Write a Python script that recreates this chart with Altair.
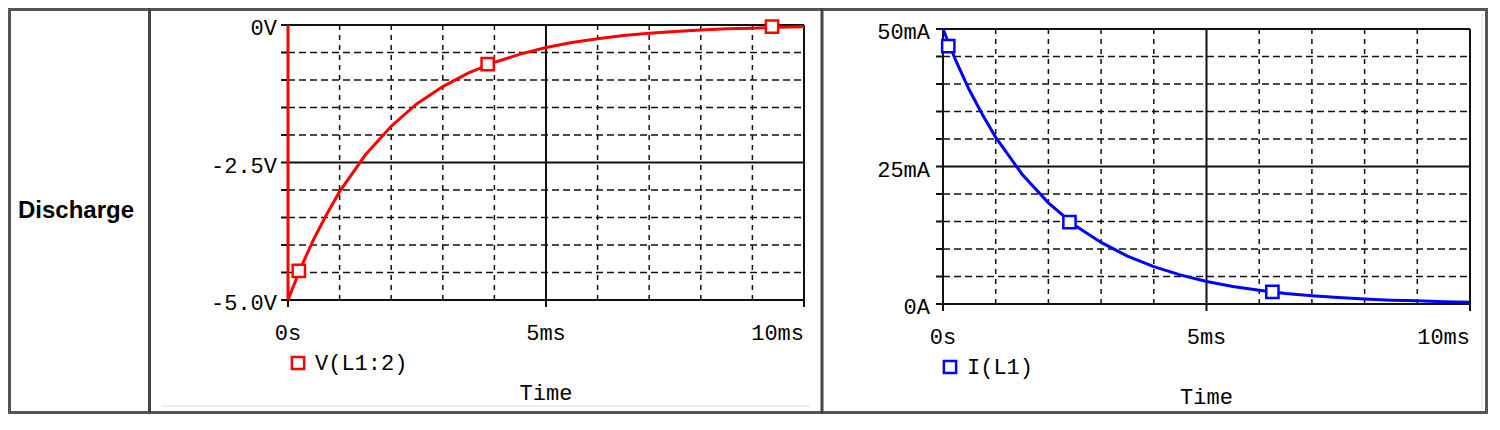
import altair as alt
import pandas as pd

# ---------------- data ----------------
row_label = ["Discharge"]

# V(L1:2) trace: time (ms) and volts
v_time = [0, 0, 0.25, 0.5, 0.75, 1, 1.5, 2, 2.5, 3, 3.5, 4, 4.5, 5, 5.5, 6,
          6.5, 7, 7.5, 8, 8.5, 9, 9.5, 10]
v_vals = [0, -5.0, -4.41, -3.89, -3.44, -3.03, -2.36, -1.84, -1.43, -1.12,
          -0.87, -0.68, -0.53, -0.41, -0.32, -0.25, -0.19, -0.15, -0.12,
          -0.09, -0.07, -0.06, -0.04, -0.03]
v_mark_time = [0.21, 3.87, 9.38]
v_mark_vals = [-4.47, -0.71, -0.03]
v_series = "V(L1:2)"

# I(L1) trace: time (ms) and mA
i_time = [0, 0.25, 0.5, 0.75, 1, 1.5, 2, 2.5, 3, 3.5, 4, 4.5, 5, 5.5, 6,
          6.5, 7, 7.5, 8, 8.5, 9, 9.5, 10]
i_vals = [50, 44.1, 38.9, 34.4, 30.3, 23.6, 18.4, 14.3, 11.2, 8.7, 6.8, 5.3,
          4.1, 3.2, 2.5, 1.9, 1.5, 1.2, 0.9, 0.7, 0.6, 0.4, 0.3]
i_mark_time = [0.1, 2.4, 6.25]
i_mark_vals = [46.9, 14.9, 2.2]
i_series = "I(L1)"

time_domain = [0, 10]
time_ticks = [0, 5, 10]
time_tick_labels = ["0s", "5ms", "10ms"]
time_grid_minor = [1, 2, 3, 4, 6, 7, 8, 9]
time_solid = [0, 5, 10]
time_title = ["Time"]

v_domain = [-5, 0]
v_ticks = [-5, -4.5, -4, -3.5, -3, -2.5, -2, -1.5, -1, -0.5, 0]
v_label_vals = [-5, -2.5, 0]
v_labels = ["-5.0V", "-2.5V", "0V"]
v_grid_minor = [-4.5, -4, -3.5, -3, -2, -1.5, -1, -0.5]
v_solid = [-5, -2.5, 0]

i_domain = [0, 50]
i_ticks = [0, 5, 10, 15, 20, 25, 30, 35, 40, 45, 50]
i_label_vals = [0, 25, 50]
i_labels = ["0A", "25mA", "50mA"]
i_grid_minor = [5, 10, 15, 20, 30, 35, 40, 45]
i_solid = [0, 25, 50]

# ---------------- style ----------------
MONO = "Liberation Mono"
W, H = 1480, 406
FS = 22
INK = "#111"


def panel(t, y, mt, my, series, color, xr, yr, ydom, yticks, ylv, yl,
          ygmin, ysolid, legend_xy, ylab_dx):
    xs = alt.Scale(domain=time_domain, range=xr, nice=False, zero=False)
    ys = alt.Scale(domain=ydom, range=yr, nice=False, zero=False)

    def X(f):
        return alt.X(f, scale=xs, axis=None)

    def Y(f):
        return alt.Y(f, scale=ys, axis=None)

    t0, t1 = time_domain
    y0, y1 = ydom
    line_df = pd.DataFrame({"t": t, "y": y, "i": list(range(len(t)))})
    mark_df = pd.DataFrame({"t": mt, "y": my, "s": [series] * len(mt)})
    vmin = pd.DataFrame({"t": time_grid_minor, "lo": y0, "hi": y1})
    vsol = pd.DataFrame({"t": time_solid, "lo": y0, "hi": y1})
    hmin = pd.DataFrame({"y": ygmin, "lo": t0, "hi": t1})
    hsol = pd.DataFrame({"y": ysolid, "lo": t0, "hi": t1})
    yt_df = pd.DataFrame({"y": yticks, "x0": t0})
    yl_df = pd.DataFrame({"y": ylv, "lab": yl, "x0": t0})
    xt_df = pd.DataFrame({"t": time_ticks, "y0": y0})
    xl_df = pd.DataFrame({"t": time_ticks, "lab": time_tick_labels, "y0": y0})
    ti_df = pd.DataFrame({"t": [(t0 + t1) / 2], "lab": time_title, "y0": y0})

    layers = [
        alt.Chart(vmin).mark_rule(color=INK, strokeWidth=1.5,
                                  strokeDash=[5, 5]).encode(
            x=X("t:Q"), y=Y("lo:Q"), y2="hi:Q"),
        alt.Chart(hmin).mark_rule(color=INK, strokeWidth=1.5,
                                  strokeDash=[7, 4]).encode(
            y=Y("y:Q"), x=X("lo:Q"), x2="hi:Q"),
        alt.Chart(vsol).mark_rule(color=INK, strokeWidth=2).encode(
            x=X("t:Q"), y=Y("lo:Q"), y2="hi:Q"),
        alt.Chart(hsol).mark_rule(color=INK, strokeWidth=2).encode(
            y=Y("y:Q"), x=X("lo:Q"), x2="hi:Q"),
        # y ticks (outward, left)
        alt.Chart(yt_df).mark_rule(color=INK, strokeWidth=2,
                                   x2Offset=-7).encode(
            y=Y("y:Q"), x=X("x0:Q"), x2="x0:Q"),
        # x ticks (outward, down)
        alt.Chart(xt_df).mark_rule(color=INK, strokeWidth=2,
                                   y2Offset=7).encode(
            x=X("t:Q"), y=Y("y0:Q"), y2="y0:Q"),
        # y labels
        alt.Chart(yl_df).mark_text(font=MONO, fontSize=FS, color="black",
                                   align="right", baseline="alphabetic",
                                   dx=ylab_dx, dy=10).encode(
            x=X("x0:Q"), y=Y("y:Q"), text="lab:N"),
        # x labels (centered, last one flush right)
        alt.Chart(xl_df.iloc[:-1]).mark_text(
            font=MONO, fontSize=FS, color="black", align="center",
            baseline="alphabetic", dy=40).encode(
            x=X("t:Q"), y=Y("y0:Q"), text="lab:N"),
        alt.Chart(xl_df.iloc[-1:]).mark_text(
            font=MONO, fontSize=FS, color="black", align="right",
            baseline="alphabetic", dy=40).encode(
            x=X("t:Q"), y=Y("y0:Q"), text="lab:N"),
        # axis title
        alt.Chart(ti_df).mark_text(
            font=MONO, fontSize=FS, color="black", align="center",
            baseline="alphabetic", dy=100).encode(
            x=X("t:Q"), y=Y("y0:Q"), text="lab:N"),
        # trace
        alt.Chart(line_df).mark_line(color=color, strokeWidth=3).encode(
            x=X("t:Q"), y=Y("y:Q"), order="i:Q"),
        # markers + legend
        alt.Chart(mark_df).mark_point(
            shape="square", size=150, filled=False, fill="white",
            strokeWidth=2.5, opacity=1).encode(
            x=X("t:Q"), y=Y("y:Q"),
            color=alt.Color(
                "s:N", scale=alt.Scale(domain=[series], range=[color]),
                legend=alt.Legend(
                    orient="none", legendX=legend_xy[0], legendY=legend_xy[1],
                    title=None, symbolType="square", symbolSize=150,
                    symbolStrokeWidth=2.5, symbolFillColor="white",
                    labelFont=MONO, labelFontSize=FS, labelColor="black",
                    labelOffset=6, padding=0))),
    ]
    return alt.layer(*layers)


left = panel(v_time, v_vals, v_mark_time, v_mark_vals, v_series, "#ff0000",
             [280, 796], [292, 17], v_domain, v_ticks, v_label_vals, v_labels,
             v_grid_minor, v_solid, (279, 344), -11)
right = panel(i_time, i_vals, i_mark_time, i_mark_vals, i_series, "#0000ff",
              [935, 1462], [296, 21], i_domain, i_ticks, i_label_vals, i_labels,
              i_grid_minor, i_solid, (931, 348), -13)

# ---------------- table frame (decoration) ----------------
one = pd.DataFrame({"k": [0]})
frame_specs = [
    # (x1, x2, y1, y2, color, width)
    (0, W, 1.5, 1.5, "#555", 3),
    (0, W, H - 1.5, H - 1.5, "#555", 3),
    (1.5, 1.5, 0, H, "#555", 3),
    (W - 1.5, W - 1.5, 0, H, "#555", 3),
    (141.5, 141.5, 0, H, "#444", 3),
    (814, 814, 0, H, "#444", 3),
    (154, 802, 398, 398, "#ececec", 2),
    (1474, 1474, 6, 400, "#ececec", 2),
]
frame = [
    alt.Chart(one).mark_rule(color=c, strokeWidth=w).encode(
        x=alt.value(x1), x2=alt.value(x2), y=alt.value(y1), y2=alt.value(y2))
    for (x1, x2, y1, y2, c, w) in frame_specs
]

label = alt.Chart(pd.DataFrame({"label": row_label})).mark_text(
    font="Liberation Sans", fontSize=24, fontWeight="bold", color="black",
    align="center", baseline="alphabetic").encode(
    x=alt.value(68), y=alt.value(210), text="label:N")

chart = alt.layer(*frame, label, left, right).resolve_scale(
    x="independent", y="independent", color="independent"
).properties(
    width=W, height=H, padding=0,
    autosize=alt.AutoSizeParams(type="none"),
    background="white",
).configure_view(stroke=None)

chart.save("out.html", embed_options={"renderer": "svg", "actions": False})
